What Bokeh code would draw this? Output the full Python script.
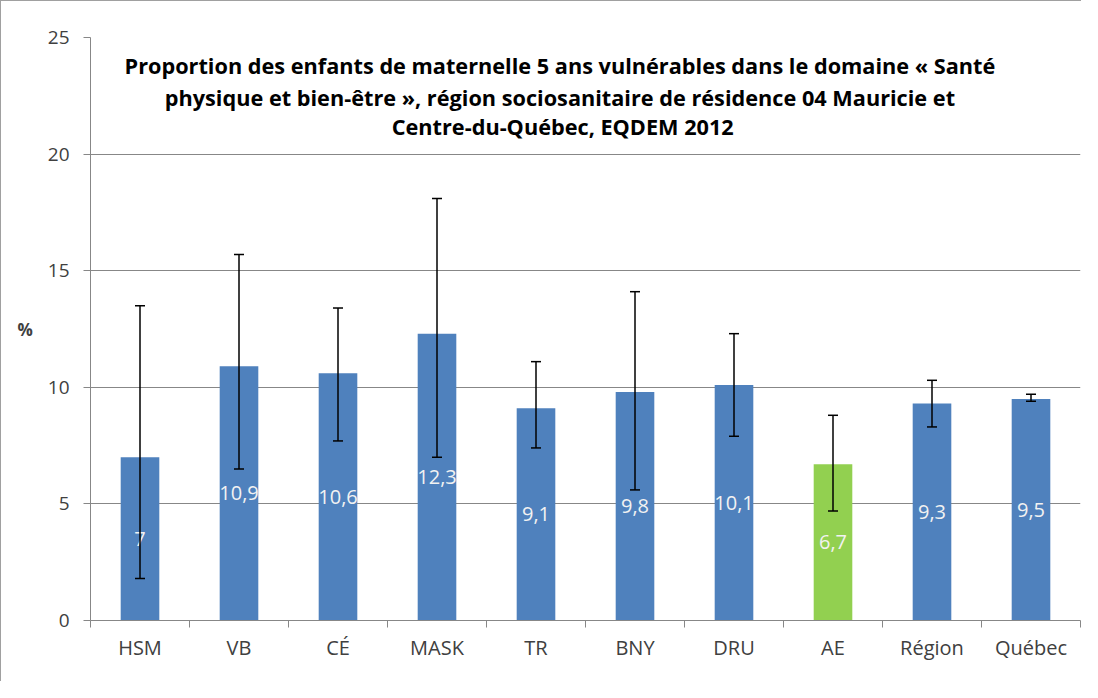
import numpy as np
from bokeh.plotting import figure
from bokeh.models import (Range1d, FixedTicker, ColumnDataSource, Whisker, TeeHead, Label)
from bokeh.core.properties import value
from bokeh.embed import file_html
from bokeh.resources import INLINE

categories = ["HSM", "VB", "CÉ", "MASK", "TR", "BNY", "DRU", "AE", "Région", "Québec"]
values = [7.0, 10.9, 10.6, 12.3, 9.1, 9.8, 10.1, 6.7, 9.3, 9.5]
upper = [13.5, 15.7, 13.4, 18.1, 11.1, 14.1, 12.3, 8.8, 10.3, 9.7]
lower = [1.8, 6.5, 7.7, 7.0, 7.4, 5.6, 7.9, 4.7, 8.3, 9.4]
value_labels = ["7", "10,9", "10,6", "12,3", "9,1", "9,8", "10,1", "6,7", "9,3", "9,5"]
bar_colors = ["#4F81BD"] * 7 + ["#92D050"] + ["#4F81BD"] * 2
y_ticks = [0, 5, 10, 15, 20, 25]
title_lines = [
    "Proportion des enfants de maternelle  5 ans vulnérables dans le domaine « Santé",
    "physique et bien-être », région sociosanitaire  de résidence 04 Mauricie et",
    "Centre-du-Québec, EQDEM 2012",
]

FONT = "Open Sans"
n = len(categories)
centers = np.arange(n) + 0.5
bounds = list(np.arange(n + 1).astype(float))

src = ColumnDataSource(dict(
    x=centers, top=values, upper=upper, lower=lower,
    color=bar_colors, label=value_labels, ly=np.array(values) / 2.0,
))

p = figure(width=1081, height=681, output_backend="svg", toolbar_location=None,
           x_range=Range1d(0, n), y_range=Range1d(0, 25),
           min_border_left=89, min_border_right=2, min_border_top=36, min_border_bottom=62)
p.outline_line_color = None
p.background_fill_color = "white"
p.border_fill_color = "white"

p.vbar(x="x", top="top", width=0.39, bottom=0, fill_color="color", line_color=None, source=src)

w = Whisker(base="x", upper="upper", lower="lower", source=src, dimension="height",
            line_color="black", line_width=1.5, level="overlay",
            upper_head=TeeHead(size=10, line_color="black", line_width=1.5),
            lower_head=TeeHead(size=10, line_color="black", line_width=1.5))
p.add_layout(w)

p.text(x="x", y="ly", text="label", source=src, text_color="#F2F2F2",
       text_align="center", text_baseline="middle",
       text_font=value(FONT), text_font_size="20px")

# axes
p.xaxis.ticker = FixedTicker(ticks=list(centers), minor_ticks=bounds)
p.xaxis.major_label_overrides = {float(c): lab for c, lab in zip(centers, categories)}
p.xaxis.major_tick_line_color = None
p.xaxis.minor_tick_line_color = "#878787"
p.xaxis.minor_tick_in = 0
p.xaxis.minor_tick_out = 7
p.xaxis.axis_line_color = "#878787"
p.xaxis.major_label_text_font = FONT
p.xaxis.major_label_text_font_size = "20px"
p.xaxis.major_label_text_color = "#404040"
p.xaxis.major_label_standoff = 6

p.yaxis.ticker = FixedTicker(ticks=y_ticks)
p.yaxis.minor_tick_line_color = None
p.yaxis.major_tick_line_color = "#878787"
p.yaxis.major_tick_in = 0
p.yaxis.major_tick_out = 7
p.yaxis.axis_line_color = "#878787"
p.yaxis.major_label_text_font = FONT
p.yaxis.major_label_text_font_size = "19px"
p.yaxis.major_label_text_color = "#404040"
p.yaxis.major_label_standoff = 14
p.yaxis.axis_label = "%"
p.yaxis.axis_label_orientation = "horizontal"
p.yaxis.axis_label_text_font = FONT
p.yaxis.axis_label_text_font_size = "17px"
p.yaxis.axis_label_text_font_style = "bold"
p.yaxis.axis_label_text_color = "#404040"
p.yaxis.axis_label_text_baseline = "top"
p.yaxis.axis_label_standoff = 12

p.xgrid.grid_line_color = None
p.ygrid.grid_line_color = "#878787"
p.ygrid.grid_line_width = 1

title_y = [23.8, 22.43, 21.19]
for t, yy in zip(title_lines, title_y):
    p.add_layout(Label(x=4.77, y=yy, text=t, text_font=FONT, text_font_size="21.7px",
                       text_font_style="bold", text_color="black",
                       text_align="center", text_baseline="alphabetic"))

p.styles = {"border-top": "1px solid #A0A0A0", "border-left": "1px solid #A0A0A0"}

open("out.html", "w").write(file_html(p, INLINE))
